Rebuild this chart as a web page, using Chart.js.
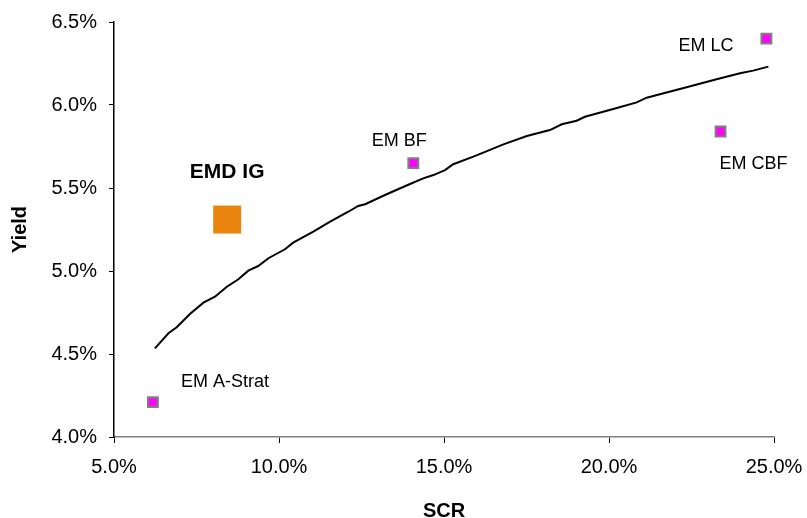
<!DOCTYPE html>
<html>
<head>
<meta charset="utf-8">
<title>Yield vs SCR</title>
<script src="https://cdn.jsdelivr.net/npm/chart.js@4/dist/chart.umd.min.js"></script>
<style>
  html, body { margin: 0; padding: 0; background: #ffffff; }
  #wrap { width: 807px; height: 518px; }
</style>
</head>
<body>
<div id="wrap"><canvas id="chart" width="807" height="518"></canvas></div>
<script>
// Efficient frontier (SCR % vs yield %)
const frontierScr   = [6.24, 6.65, 6.90, 7.30, 7.71, 8.06, 8.42, 8.77, 9.07, 9.37, 9.68, 10.18, 10.43,
                       11.04, 11.55, 12.10, 12.40, 12.61, 13.21, 13.97, 14.37, 14.68, 15.03, 15.28,
                       15.89, 16.19, 16.80, 17.51, 18.21, 18.57, 19.02, 19.27, 20.13, 20.84, 21.14,
                       22.35, 23.26, 23.97, 24.37, 24.83];
const frontierYield = [4.534, 4.625, 4.661, 4.741, 4.809, 4.845, 4.905, 4.950, 5.002, 5.030, 5.077, 5.131, 5.171,
                       5.237, 5.297, 5.357, 5.392, 5.402, 5.458, 5.524, 5.558, 5.578, 5.608, 5.643,
                       5.689, 5.713, 5.763, 5.813, 5.849, 5.884, 5.905, 5.929, 5.976, 6.016, 6.044,
                       6.107, 6.155, 6.191, 6.207, 6.231];

// Individual EM strategies
const strategyNames = ['EM A-Strat', 'EM BF', 'EM CBF', 'EM LC'];
const strategyScr   = [6.18, 14.07, 23.38, 24.77];
const strategyYield = [4.21, 5.65, 5.84, 6.40];

// EMD IG portfolio
const igNames = ['EMD IG'];
const igScr   = [8.43];
const igYield = [5.31];

// Axis ticks
const xTicks = [5, 10, 15, 20, 25];
const yTicks = [4.0, 4.5, 5.0, 5.5, 6.0, 6.5];

const FONT = "'Liberation Sans', Arial, Helvetica, sans-serif";

const toXY = (xs, ys) => xs.map((x, i) => ({ x: x, y: ys[i] }));

// Label placement around each marker (pixel offsets from the marker centre)
const labelStyles = {
  1: [
    { dx: 28, dy: -20, align: 'left' },
    { dx: -14, dy: -22, align: 'center' },
    { dx: -1, dy: 32, align: 'left' },
    { dx: -33, dy: 7, align: 'right' }
  ],
  2: [
    { dx: 0, dy: -47, align: 'center' }
  ]
};
const labelFonts = { 1: 'normal 18px ' + FONT, 2: 'bold 21px ' + FONT };
const labelTexts = { 1: strategyNames, 2: igNames };

const pointLabels = {
  id: 'pointLabels',
  afterDatasetsDraw(chart) {
    const ctx = chart.ctx;
    ctx.save();
    ctx.fillStyle = '#000000';
    ctx.textBaseline = 'middle';
    Object.keys(labelTexts).forEach(k => {
      const idx = Number(k);
      const meta = chart.getDatasetMeta(idx);
      ctx.font = labelFonts[k];
      meta.data.forEach((el, i) => {
        const s = labelStyles[k][i];
        ctx.textAlign = s.align;
        ctx.fillText(labelTexts[k][i], el.x + s.dx, el.y + s.dy);
      });
    });
    ctx.restore();
  }
};

// Fixed axis box sizes; the plot margins come from layout.padding only
const fixBox = (axis, size) => {
  if (axis.isHorizontal()) { axis.height = size; } else { axis.width = size; }
  axis.paddingLeft = 0; axis.paddingRight = 0;
  axis.paddingTop = 0; axis.paddingBottom = 0;
};

new Chart(document.getElementById('chart'), {
  type: 'scatter',
  data: {
    datasets: [
      {
        label: 'Frontier',
        data: toXY(frontierScr, frontierYield),
        showLine: true,
        borderColor: '#000000',
        borderWidth: 2,
        pointRadius: 0,
        tension: 0,
        fill: false,
        order: 3
      },
      {
        label: 'EM strategies',
        data: toXY(strategyScr, strategyYield),
        pointStyle: 'rect',
        pointRadius: 7,
        backgroundColor: '#FF00FF',
        borderColor: '#808080',
        borderWidth: 2,
        order: 2
      },
      {
        label: 'EMD IG',
        data: toXY(igScr, igYield),
        pointStyle: 'rect',
        pointRadius: 19.8,
        backgroundColor: '#E9840F',
        borderColor: '#E9840F',
        borderWidth: 0,
        order: 1
      }
    ]
  },
  options: {
    responsive: false,
    animation: false,
    layout: { padding: { top: 22, right: 33, bottom: 0, left: 0 } },
    plugins: {
      legend: { display: false },
      tooltip: { enabled: false }
    },
    scales: {
      x: {
        type: 'linear',
        min: xTicks[0],
        max: xTicks[xTicks.length - 1],
        afterBuildTicks: axis => { axis.ticks = xTicks.map(v => ({ value: v })); },
        afterFit: axis => fixBox(axis, 81),
        ticks: {
          color: '#000000',
          font: { family: FONT, size: 20 },
          padding: 12,
          maxRotation: 0,
          callback: v => Number(v).toFixed(1) + '%'
        },
        grid: { drawOnChartArea: false, drawTicks: true, tickLength: 6, color: '#000000', lineWidth: 1 },
        border: { display: true, color: '#808080', width: 1.5 },
        title: {
          display: true,
          text: 'SCR',
          color: '#000000',
          font: { family: FONT, size: 20, weight: 'bold', lineHeight: 0.7 },
          padding: { top: 0, bottom: 0 }
        }
      },
      y: {
        type: 'linear',
        min: yTicks[0],
        max: yTicks[yTicks.length - 1],
        afterBuildTicks: axis => { axis.ticks = yTicks.map(v => ({ value: v })); },
        afterFit: axis => fixBox(axis, 114),
        ticks: {
          color: '#000000',
          font: { family: FONT, size: 20 },
          padding: 12,
          callback: v => Number(v).toFixed(1) + '%'
        },
        grid: { drawOnChartArea: false, drawTicks: true, tickLength: 5, color: '#000000', lineWidth: 1 },
        border: { display: true, color: '#000000', width: 1.5 },
        title: {
          display: true,
          text: 'Yield',
          color: '#000000',
          font: { family: FONT, size: 20, weight: 'bold', lineHeight: 1.2 },
          padding: { top: 8, bottom: 0 }
        }
      }
    }
  },
  plugins: [pointLabels]
});
</script>
</body>
</html>
